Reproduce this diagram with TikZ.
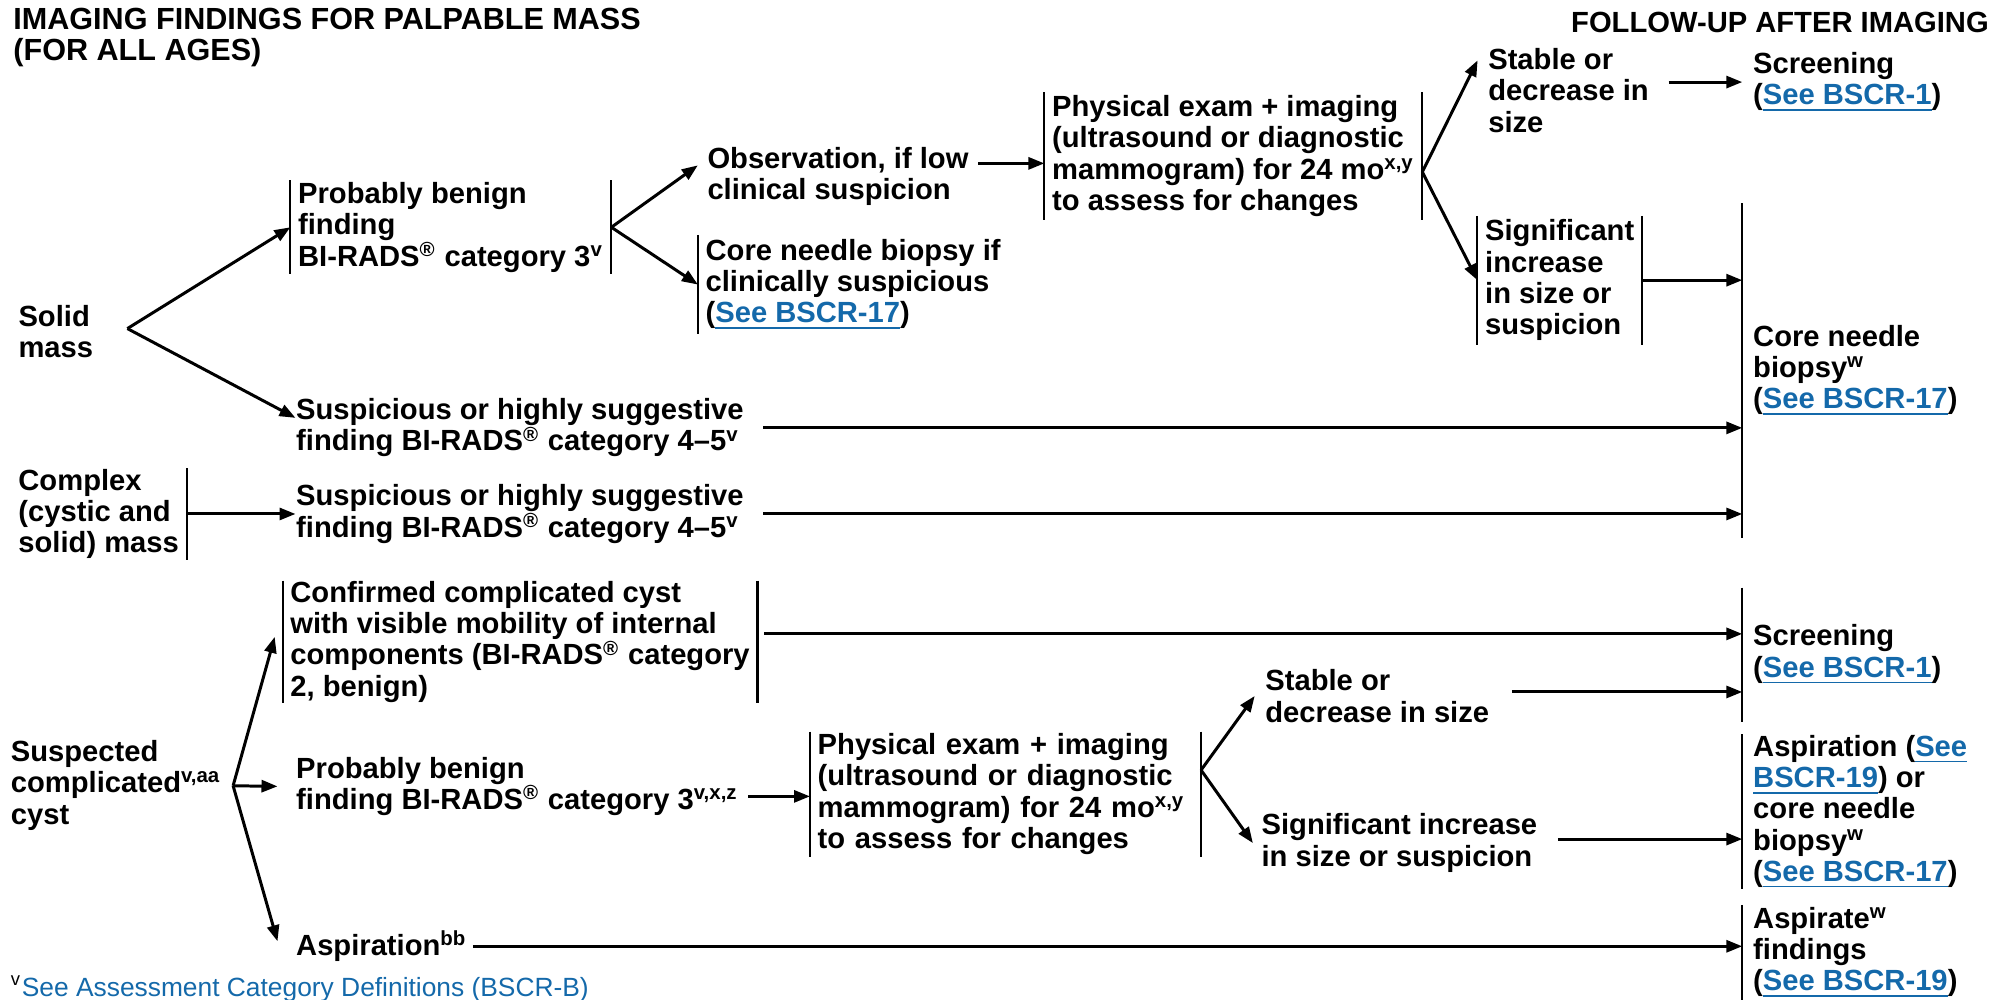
\documentclass[tikz,border=0pt]{standalone}
\usepackage{fontspec}
\setmainfont{Liberation Sans}
\usetikzlibrary{arrows.meta,positioning}

\definecolor{linkblue}{RGB}{20,105,170}
\newcommand{\seelink}[1]{\textcolor{linkblue}{\underline{#1}}}
\newcommand{\birads}{BI-RADS\textsuperscript{®}}

\begin{document}
\begin{tikzpicture}[
    every node/.style={font=\bfseries\fontsize{8.3}{8.9}\selectfont, inner sep=0pt, anchor=west, align=left},
    barred/.style={inner xsep=2pt, minimum height=#1},
    outcome/.style={inner xsep=2.9pt, minimum height=#1},
    conn/.style={line width=0.85pt, -{Triangle[length=1.6mm,width=1.2mm]}},
    bar/.style={line width=0.6pt}
]
    \useasboundingbox (0,0) rectangle (19.97,10);

    % Titulos
    \node[font=\bfseries\fontsize{8.7}{8.9}\selectfont] (title) at (0.127,9.624) {IMAGING FINDINGS FOR PALPABLE MASS\\(FOR ALL AGES)};
    \node[anchor=east] (fu) at (19.894,9.771) {FOLLOW-UP AFTER IMAGING};

    % Masa solida
    \node (solid) at (0.178,6.682) {Solid\\mass};
    \coordinate (f1) at (1.274,6.714);
    \node[barred=0.930cm] (pb1) at (2.904,7.727) {Probably benign\\finding\\\birads{} category 3\textsuperscript{v}};
    \node (sus1) at (2.955,5.721) {Suspicious or highly suggestive\\finding \birads{} category 4--5\textsuperscript{v}};
    \draw[bar] (pb1.north west) -- (pb1.south west) (pb1.north east) -- (pb1.south east);
    \draw[conn] (f1) -- (pb1.west);
    \draw[conn] (f1) -- ([yshift=1mm]sus1.west);

    \node (obs) at (7.068,8.236) {Observation, if low\\clinical suspicion};
    \node[barred=0.981cm] (cnb1) at (6.979,7.154) {Core needle biopsy if\\clinically suspicious\\(\seelink{See BSCR-17})};
    \draw[bar] (cnb1.north west) -- (cnb1.south west);
    \draw[conn] (pb1.east) -- ([shift={(-0.9mm,1.1mm)}]obs.west);
    \draw[conn] (pb1.east) -- (cnb1.west);

    \node[barred=1.261cm] (pe1) at (10.444,8.440) {Physical exam + imaging\\(ultrasound or diagnostic\\mammogram) for 24 mo\textsuperscript{x,y}\\to assess for changes};
    \draw[bar] (pe1.north west) -- (pe1.south west) (pe1.north east) -- (pe1.south east);
    \coordinate (a1) at ([shift={(0.9mm,1.3mm)}]obs.east);
    \draw[conn] (a1) -- (a1 -| pe1.west);

    \node (st1) at (14.876,9.096) {Stable or\\decrease in\\size};
    \node[barred=1.274cm] (sig1) at (14.774,7.198) {Significant\\increase\\in size or\\suspicion};
    \draw[bar] (sig1.north west) -- (sig1.south west) (sig1.north east) -- (sig1.south east);
    \draw[conn] ([yshift=-1.6mm]pe1.east) -- ([shift={(-1mm,3mm)}]st1.west);
    \draw[conn] ([yshift=-1.6mm]pe1.east) -- (sig1.west);

    % Resultados
    \node[outcome=0pt] (scr1) at (17.423,9.179) {Screening\\(\seelink{See BSCR-1})};
    \node[outcome=3.337cm] (cnb) at (17.423,6.294) {Core needle\\biopsy\textsuperscript{w}\\(\seelink{See BSCR-17})};
    \draw[bar] (cnb.north west) -- (cnb.south west);
    \coordinate (a2) at ([xshift=1.9mm]st1.east |- scr1.west);
    \draw[conn] (a2) -- (scr1.west);
    \draw[conn] (sig1.east) -- (sig1.east -| cnb.west);
    \draw[conn] ([xshift=1.9mm]sus1.east) -- (sus1.east -| cnb.west);

    % Masa compleja
    \node[barred=0.904cm] (cx) at (0.107,4.860) {Complex\\(cystic and\\solid) mass};
    \node (sus2) at (2.955,4.860) {Suspicious or highly suggestive\\finding \birads{} category 4--5\textsuperscript{v}};
    \draw[bar] (cx.north east) -- (cx.south east);
    \draw[conn] (cx.east) -- (sus2.west);
    \draw[conn] ([xshift=1.9mm]sus2.east) -- (sus2.east -| cnb.west);

    % Quiste complicado
    \node (sc) at (0.102,2.148) {Suspected\\complicated\textsuperscript{v,aa}\\cyst};
    \coordinate (f3) at (2.331,2.142);
    \node[barred=1.172cm] (cc) at (2.827,3.581) {Confirmed complicated cyst\\with visible mobility of internal\\components (\birads{} category\\2, benign)};
    \node (pb2) at (2.955,2.136) {Probably benign\\finding \birads{} category 3\textsuperscript{v,x,z}};
    \node (asp) at (2.955,0.537) {Aspiration\textsuperscript{bb}};
    \draw[bar] (cc.north west) -- (cc.south west) (cc.north east) -- (cc.south east);
    \draw[conn] (f3) -- ([shift={(-0.8mm,0.5mm)}]cc.west);
    \draw[conn] (f3) -- ([xshift=-1.8mm]pb2.west);
    \draw[conn] (f3) -- ([shift={(-1.8mm,0.5mm)}]asp.west);

    \node[barred=1.235cm, text width=3.756cm] (pe2) at (8.100,2.059) {Physical exam + imaging\\(ultrasound or diagnostic\\mammogram) for 24 mo\textsuperscript{x,y}\\to assess for changes};
    \draw[bar] (pe2.north west) -- (pe2.south west) (pe2.north east) -- (pe2.south east);
    \coordinate (a3) at ([shift={(0.9mm,-1mm)}]pb2.east);
    \draw[conn] (a3) -- (a3 -| pe2.west);

    \node (st2) at (12.647,3.040) {Stable or\\decrease in size};
    \node (sg2) at (12.609,1.569) {Significant increase\\in size or suspicion};
    \draw[conn] ([yshift=2.4mm]pe2.east) -- ([xshift=-1mm]st2.west);
    \draw[conn] ([yshift=2.4mm]pe2.east) -- ([xshift=-0.8mm]sg2.west);

    \node[outcome=1.325cm] (scr2) at (17.423,3.454) {Screening\\(\seelink{See BSCR-1})};
    \node[outcome=1.503cm] (asb) at (17.423,1.880) {Aspiration (\seelink{See}\\\seelink{BSCR-19}) or\\core needle\\biopsy\textsuperscript{w}\\(\seelink{See BSCR-17})};
    \node[outcome=0.942cm] (aspw) at (17.423,0.473) {Aspirate\textsuperscript{w}\\findings\\(\seelink{See BSCR-19})};
    \draw[bar] (scr2.north west) -- (scr2.south west);
    \draw[bar] (asb.north west) -- (asb.south west);
    \draw[bar] (aspw.north west) -- (aspw.south west);

    \coordinate (a4) at ([shift={(0.7mm,0.8mm)}]cc.east);
    \draw[conn] (a4) -- (a4 -| scr2.west);
    \coordinate (a5) at ([shift={(2.2mm,0.4mm)}]st2.east);
    \draw[conn] (a5) -- (a5 -| scr2.west);
    \coordinate (a6) at ([shift={(2mm,0.4mm)}]sg2.east);
    \draw[conn] (a6) -- (a6 -| asb.west);
    \coordinate (a7) at ([xshift=0.5mm]asp.east);
    \draw[conn] (a7) -- (a7 -| aspw.west);

    % Nota
    \node[font=\fontsize{7.5}{8}\selectfont, text=linkblue] (fn) at (0.102,0.110) {\textcolor{black}{\textsuperscript{v}}See Assessment Category Definitions (BSCR-B)};
\end{tikzpicture}
\end{document}
